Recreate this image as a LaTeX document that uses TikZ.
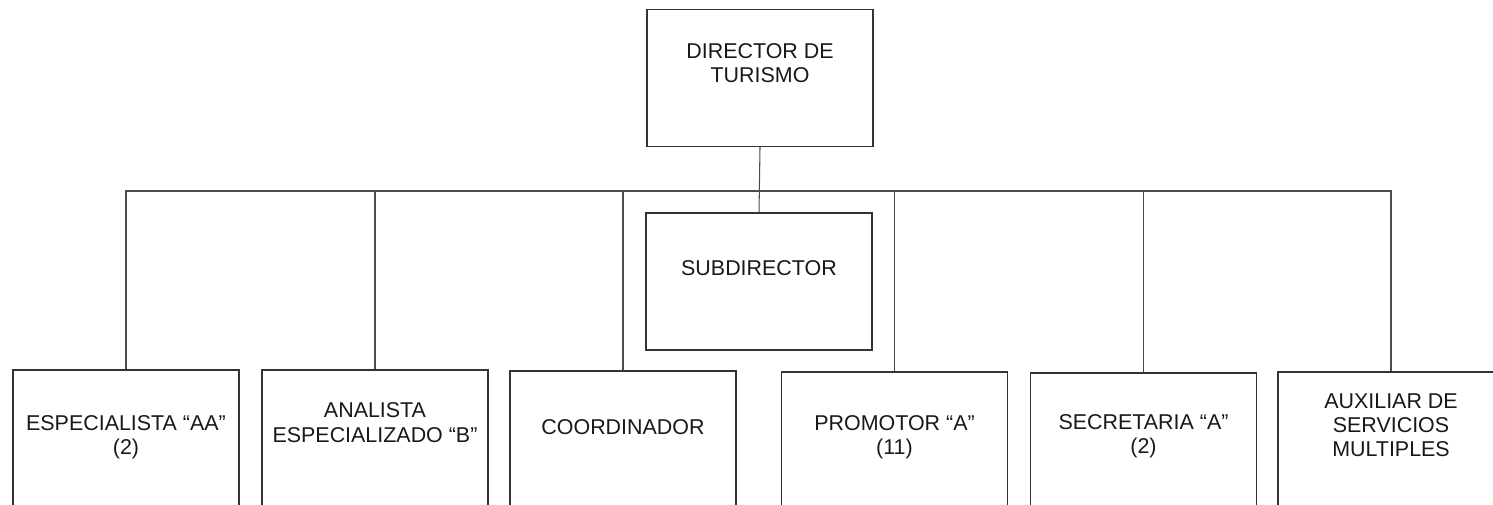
\documentclass[tikz,border=0pt]{standalone}
\usepackage{fontspec}
\setmainfont{Liberation Sans}
\begin{document}
\begin{tikzpicture}[x=0.02cm,y=-0.02cm,
  box/.style={draw=black!80, line width=0.8pt, minimum width=4.52cm, minimum height=2.74cm, inner sep=0pt},
  post/.style={draw=black!80, line width=0.8pt, minimum width=4.52cm, minimum height=3.2cm, inner sep=0pt},
  lbl/.style={align=center, text=black!90, font=\fontsize{12.2}{13.8}\selectfont, inner sep=0pt},
  conn/.style={draw=black!70, line width=0.6pt}]
\useasboundingbox (0,0) rectangle (1493,504);
\clip (0,0) rectangle (1493,504);
\node[box] (dir) at (760,78) {};
\node[lbl] (dir-t) at (760,63) {DIRECTOR DE\\TURISMO};
\node[box] (sub) at (759,281.5) {};
\node[lbl] (sub-t) at (759,268.5) {SUBDIRECTOR};
\coordinate (bus) at (760,191);
\node[post] (espec) at (126,450) {};
\node[post] (anal) at (375,450) {};
\node[post] (coord) at (623,451) {};
\node[post] (prom) at (894.5,452) {};
\node[post] (secr) at (1143.5,453) {};
\node[post] (aux) at (1391,452) {};
\node[lbl] (espec-t) at (126,437) {ESPECIALISTA “AA”\\(2)};
\node[lbl] (anal-t) at (375,422.5) {ANALISTA\\ESPECIALIZADO “B”};
\node[lbl] (coord-t) at (623,427) {COORDINADOR};
\node[lbl] (prom-t) at (894.5,437) {PROMOTOR “A”\\(11)};
\node[lbl] (secr-t) at (1143.5,436) {SECRETARIA “A”\\(2)};
\node[lbl] (aux-t) at (1391,425) {AUXILIAR DE\\SERVICIOS\\MULTIPLES};
\draw[conn] (dir.south) -- (sub.north);
\foreach \n in {espec,anal,coord,prom,secr,aux}
  \draw[conn] (bus) -| (\n.north);
\end{tikzpicture}
\end{document}
